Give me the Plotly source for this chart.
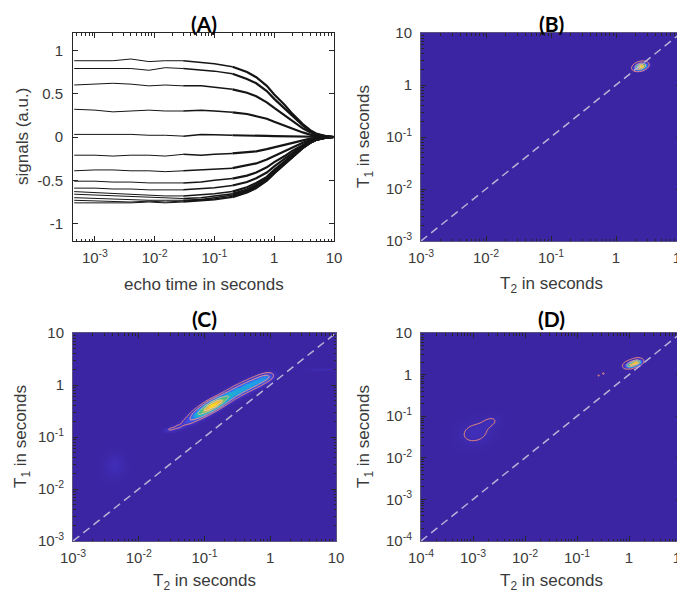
import numpy as np
import plotly.graph_objects as go

# ---------------- Panel A data ----------------
echo_time = [4.5e-4, 1e-3, 2e-3, 4e-3, 8e-3, 0.015, 0.03, 0.06, 0.1, 0.2, 0.35,
             0.5, 0.75, 1, 1.5, 2, 3, 4, 5, 7, 10]
signals = [
    [0.88, 0.88, 0.88, 0.90, 0.87, 0.88, 0.88, 0.86, 0.845, 0.81, 0.75, 0.69, 0.59, 0.49, 0.37, 0.27, 0.15, 0.08, 0.04, 0.013, 0.0],
    [0.79, 0.79, 0.79, 0.79, 0.77, 0.80, 0.79, 0.77, 0.76, 0.73, 0.67, 0.62, 0.53, 0.44, 0.33, 0.245, 0.135, 0.07, 0.035, 0.012, 0.0],
    [0.60, 0.61, 0.62, 0.61, 0.59, 0.60, 0.59, 0.59, 0.575, 0.55, 0.51, 0.47, 0.40, 0.335, 0.25, 0.185, 0.10, 0.055, 0.027, 0.009, 0.0],
    [0.32, 0.31, 0.29, 0.30, 0.31, 0.30, 0.30, 0.31, 0.30, 0.285, 0.265, 0.24, 0.21, 0.175, 0.13, 0.095, 0.053, 0.028, 0.014, 0.005, 0.0],
    [0.03, 0.03, 0.035, 0.03, 0.02, 0.02, 0.01, 0.03, 0.025, 0.02, 0.02, 0.015, 0.012, 0.01, 0.008, 0.006, 0.004, 0.002, 0.001, 0.0, 0.0],
    [-0.21, -0.21, -0.22, -0.21, -0.21, -0.22, -0.20, -0.21, -0.20, -0.19, -0.18, -0.165, -0.14, -0.12, -0.09, -0.065, -0.036, -0.019, -0.01, -0.003, 0.0],
    [-0.39, -0.38, -0.38, -0.39, -0.39, -0.40, -0.39, -0.38, -0.375, -0.36, -0.33, -0.305, -0.26, -0.22, -0.165, -0.12, -0.066, -0.035, -0.018, -0.006, 0.0],
    [-0.51, -0.51, -0.52, -0.52, -0.53, -0.53, -0.53, -0.52, -0.50, -0.48, -0.445, -0.41, -0.35, -0.29, -0.22, -0.16, -0.09, -0.047, -0.024, -0.008, 0.0],
    [-0.59, -0.59, -0.60, -0.60, -0.61, -0.61, -0.61, -0.60, -0.585, -0.56, -0.52, -0.475, -0.41, -0.34, -0.255, -0.19, -0.10, -0.055, -0.027, -0.009, 0.0],
    [-0.63, -0.64, -0.65, -0.66, -0.67, -0.68, -0.68, -0.67, -0.655, -0.63, -0.58, -0.53, -0.46, -0.38, -0.285, -0.21, -0.115, -0.061, -0.03, -0.01, 0.0],
    [-0.66, -0.67, -0.68, -0.69, -0.70, -0.70, -0.71, -0.70, -0.68, -0.655, -0.605, -0.555, -0.475, -0.40, -0.30, -0.22, -0.12, -0.064, -0.032, -0.011, 0.0],
    [-0.70, -0.71, -0.72, -0.72, -0.73, -0.73, -0.73, -0.72, -0.70, -0.67, -0.62, -0.57, -0.49, -0.41, -0.305, -0.225, -0.124, -0.066, -0.033, -0.011, 0.0],
    [-0.73, -0.74, -0.74, -0.75, -0.74, -0.75, -0.74, -0.73, -0.715, -0.685, -0.635, -0.58, -0.50, -0.415, -0.31, -0.23, -0.126, -0.067, -0.034, -0.011, 0.0],
    [-0.76, -0.76, -0.76, -0.76, -0.75, -0.76, -0.75, -0.74, -0.725, -0.695, -0.64, -0.59, -0.505, -0.42, -0.315, -0.235, -0.128, -0.068, -0.034, -0.011, 0.0],
]

# ---------------- T1-T2 map peaks ----------------
# each peak: T2 centre, T1 centre, amplitude, sigma log10(T2), sigma log10(T1), correlation
B_T2 = [2.37]
B_T1 = [2.29]
B_amp = [1.0]
B_sx = [0.055]
B_sy = [0.042]
B_rho = [0.3]

C_T2 = [0.030, 0.040, 0.056, 0.079, 0.107, 0.141, 0.19, 0.263, 0.355, 0.479, 0.66, 0.87, 0.0042, 6.0]
C_T1 = [0.141, 0.158, 0.20, 0.27, 0.347, 0.427, 0.525, 0.676, 0.832, 1.0, 1.2, 1.41, 0.028, 2.0]
C_amp = [0.10, 0.10, 0.15, 0.35, 0.60, 0.75, 0.45, 0.27, 0.24, 0.24, 0.24, 0.20, 0.05, 0.04]
C_sx = [0.06, 0.06, 0.08, 0.09, 0.10, 0.10, 0.10, 0.10, 0.10, 0.10, 0.10, 0.08, 0.10, 0.15]
C_sy = [0.035, 0.04, 0.055, 0.07, 0.08, 0.08, 0.08, 0.08, 0.08, 0.08, 0.08, 0.06, 0.16, 0.015]
C_rho = [0.3, 0.3, 0.4, 0.5, 0.6, 0.6, 0.6, 0.5, 0.5, 0.5, 0.5, 0.4, 0.0, 0.0]

D_T2 = [1.05, 1.35, 0.26, 0.32, 1.1e-3, 2.2e-3]
D_T1 = [1.75, 1.95, 0.95, 1.06, 0.04, 0.075]
D_amp = [0.75, 1.0, 0.08, 0.08, 0.055, 0.035]
D_sx = [0.06, 0.06, 0.012, 0.012, 0.22, 0.12]
D_sy = [0.045, 0.045, 0.012, 0.012, 0.20, 0.10]
D_rho = [0.3, 0.3, 0.0, 0.0, 0.2, 0.3]

diag_B = [1e-3, 10]
diag_C = [1e-3, 10]
diag_D = [1e-4, 10]

levels_B = [0.05, 0.35, 0.7]
levels_C = [0.08, 0.2, 0.5, 0.75]
levels_D = [0.03, 0.35, 0.7]


def density(lx, ly, T2, T1, amp, sx, sy, rho):
    X, Y = np.meshgrid(lx, ly)
    Z = np.zeros_like(X)
    for t2, t1, a, s1, s2, r in zip(T2, T1, amp, sx, sy, rho):
        dx = (X - np.log10(t2)) / s1
        dy = (Y - np.log10(t1)) / s2
        q = (dx ** 2 - 2 * r * dx * dy + dy ** 2) / (1 - r ** 2)
        Z += a * np.exp(-0.5 * q)
    return Z / Z.max()


parula = [[0.0, '#3B25A3'], [0.08, '#4535C8'], [0.2, '#3D5CF0'], [0.32, '#1E9EE8'],
          [0.48, '#20B8C0'], [0.6, '#48C080'], [0.72, '#A6C458'], [0.85, '#F4B43C'],
          [1.0, '#F9E01E']]
line_cols = ['#EE8E7C', '#F2A08A', '#E8B49A', '#F0C8A8']

fig = go.Figure()

# ---------------- Panel A ----------------
seg_bounds = [(0, 6, 1.0), (6, 9, 1.5), (9, 20, 2.2)]
for s in signals:
    for i0, i1, w in seg_bounds:
        fig.add_trace(go.Scatter(x=echo_time[i0:i1 + 1], y=s[i0:i1 + 1], mode='lines',
                                 line=dict(color='#151515', width=w), xaxis='x', yaxis='y',
                                 showlegend=False, hoverinfo='skip'))


def add_map(xa, ya, lxr, lyr, T2, T1, amp, sx, sy, rho, levels, diag):
    lx = np.linspace(lxr[0], lxr[1], 260)
    ly = np.linspace(lyr[0], lyr[1], 260)
    Z = density(lx, ly, T2, T1, amp, sx, sy, rho)
    xs = 10 ** lx
    ys = 10 ** ly
    fig.add_trace(go.Heatmap(x=xs, y=ys, z=Z, colorscale=parula, zmin=0, zmax=1,
                             zsmooth='best', showscale=False, hoverinfo='skip',
                             xaxis=xa, yaxis=ya))
    for i, lv in enumerate(levels):
        fig.add_trace(go.Contour(x=xs, y=ys, z=Z, showscale=False, hoverinfo='skip',
                                 contours=dict(coloring='none', start=lv, end=lv, size=1),
                                 line=dict(color=line_cols[min(i, 3)], width=1),
                                 xaxis=xa, yaxis=ya))
    fig.add_trace(go.Scatter(x=diag, y=diag, mode='lines',
                             line=dict(color='#B9B2D6', width=1.5, dash='8px,5px'),
                             xaxis=xa, yaxis=ya, showlegend=False, hoverinfo='skip'))


add_map('x2', 'y2', (-3, 1), (-3, 1), B_T2, B_T1, B_amp, B_sx, B_sy, B_rho, levels_B, diag_B)
add_map('x3', 'y3', (-3, 1), (-3, 1), C_T2, C_T1, C_amp, C_sx, C_sy, C_rho, levels_C, diag_C)
add_map('x4', 'y4', (-4, 1), (-4, 1), D_T2, D_T1, D_amp, D_sx, D_sy, D_rho, levels_D, diag_D)

# ---------------- axes ----------------
tick_font = dict(family='Liberation Sans, Arial', size=15, color='#3a3a3a')


def log_ticks(lo, hi):
    vals = [10.0 ** k for k in range(lo, hi + 1)]
    txt = []
    for k in range(lo, hi + 1):
        if k == 0:
            txt.append('1')
        elif k == 1:
            txt.append('10')
        else:
            txt.append('10<sup>%d</sup>' % k)
    minor = [m * 10.0 ** k for k in range(lo - 1, hi) for m in range(2, 10)]
    return vals, txt, minor


def log_axis(lo, hi, rng, domain, anchor, linecolor, standoff):
    vals, txt, minor = log_ticks(lo, hi)
    return dict(type='log', range=rng, domain=domain, anchor=anchor, automargin=False,
                tickmode='array', tickvals=vals, ticktext=txt,
                ticks='inside', ticklen=5, tickcolor='#262626', tickwidth=1,
                minor=dict(tickmode='array', tickvals=minor, ticks='inside', ticklen=2.5,
                           tickcolor='#262626', tickwidth=1),
                showline=True, linecolor=linecolor, linewidth=1, mirror='allticks',
                showgrid=False, zeroline=False, tickfont=tick_font, ticklabelstandoff=standoff)


dxA = [65 / 685, 326 / 685]
dxB = [413 / 685, 673 / 685]
dxC = [65 / 685, 328 / 685]
dyTop = [1 - 233 / 593, 1 - 25 / 593]
dyBot = [1 - 533 / 593, 1 - 325 / 593]

xa = log_axis(-3, 1, [np.log10(4.3e-4), 1], dxA, 'y', '#262626', 3)
ya = dict(range=[-1.2, 1.2], domain=dyTop, anchor='x', automargin=False, tickmode='array',
          tickvals=[-1, -0.5, 0, 0.5, 1], ticktext=['-1', '-0.5', '0', '0.5', '1'],
          ticks='inside', ticklen=5, tickcolor='#262626', showline=True, linecolor='#262626',
          linewidth=1, mirror='allticks', showgrid=False, zeroline=False, tickfont=tick_font,
          ticklabelstandoff=6)

fig.update_layout(
    template='none',
    xaxis=xa, yaxis=ya,
    xaxis2=log_axis(-3, 1, [-3, 1], dxB, 'y2', '#5a5480', 3),
    yaxis2=log_axis(-3, 1, [-3, 1], dyTop, 'x2', '#5a5480', 5),
    xaxis3=log_axis(-3, 1, [-3, 1], dxC, 'y3', '#5a5480', 3),
    yaxis3=log_axis(-3, 1, [-3, 1], dyBot, 'x3', '#5a5480', 5),
    xaxis4=log_axis(-4, 1, [-4, 1], dxB, 'y4', '#5a5480', 3),
    yaxis4=log_axis(-4, 1, [-4, 1], dyBot, 'x4', '#5a5480', 5),
)

# ---------------- text ----------------
ann = []
title_font = dict(family='Lato, Open Sans', size=21, color='#000000')
lab_font = dict(family='Liberation Sans, Arial', size=17, color='#3a3a3a')


def px(x, y):
    return x / 685, 1 - y / 593


for txt, (x, y) in [('<b>(A)</b>', (195.5, 15)), ('<b>(B)</b>', (543, 15)),
                    ('<b>(C)</b>', (196.5, 310)), ('<b>(D)</b>', (543, 310))]:
    X, Y = px(x, y)
    ann.append(dict(text=txt, x=X, y=Y, xref='paper', yref='paper', showarrow=False,
                    font=title_font, xanchor='center', yanchor='middle'))

for txt, (x, y) in [('echo time in seconds', (195.5, 276)), ('T<sub>2</sub> in seconds', (543, 277)),
                    ('T<sub>2</sub> in seconds', (196.5, 574)), ('T<sub>2</sub> in seconds', (543, 574))]:
    X, Y = px(x, y)
    ann.append(dict(text=txt, x=X, y=Y, xref='paper', yref='paper', showarrow=False,
                    font=lab_font, xanchor='center', yanchor='middle'))

for txt, (x, y) in [('signals (a.u.)', (15, 129)), ('T<sub>1</sub> in seconds', (357, 129)),
                    ('T<sub>1</sub> in seconds', (14, 429)), ('T<sub>1</sub> in seconds', (357, 429))]:
    X, Y = px(x, y)
    ann.append(dict(text=txt, x=X, y=Y, xref='paper', yref='paper', showarrow=False,
                    font=lab_font, xanchor='center', yanchor='middle', textangle=-90))

fig.update_layout(annotations=ann, width=685, height=593, autosize=False,
                  margin=dict(l=0, r=0, t=0, b=0, pad=0), paper_bgcolor='white',
                  plot_bgcolor='white', showlegend=False)

fig.write_html('out.html')
